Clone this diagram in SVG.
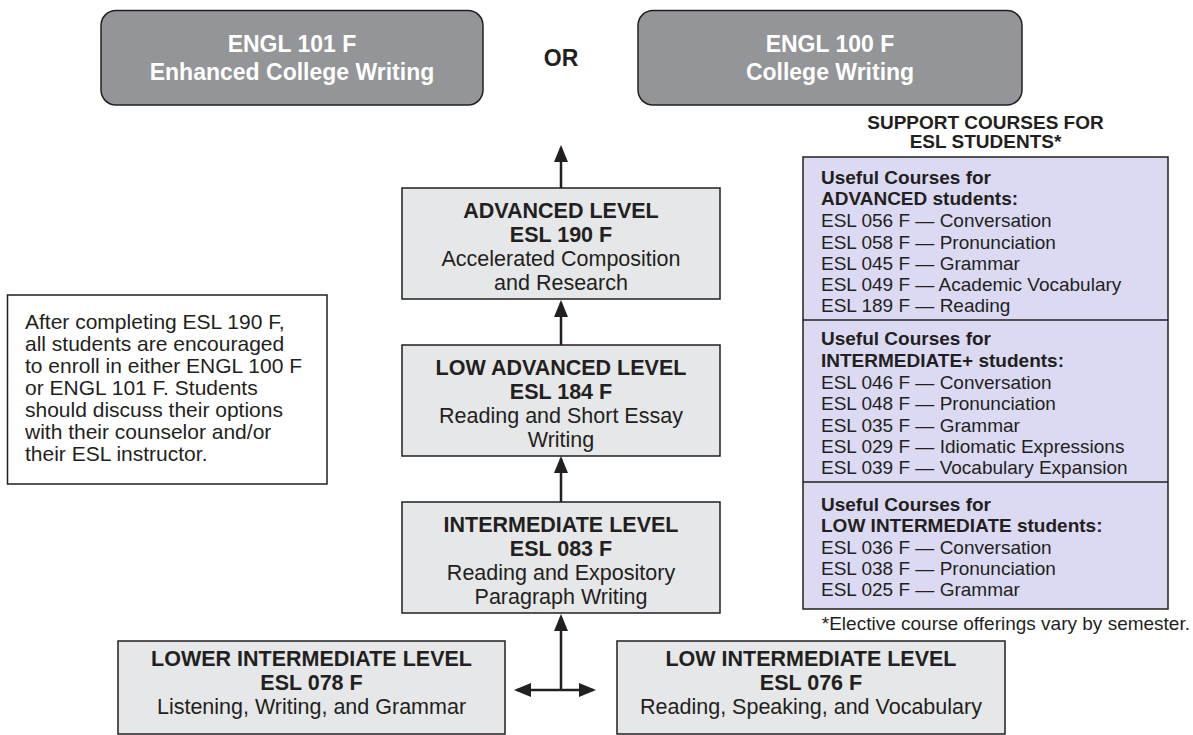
<svg xmlns="http://www.w3.org/2000/svg" width="1193" height="735" viewBox="0 0 1193 735">
<style>
text{font-family:"Liberation Sans",Arial,Helvetica,sans-serif;fill:#231f20}
.b{font-weight:bold}
.top{fill:#939598;stroke:#231f20;stroke-width:1.5}
.topt{fill:#ffffff;font-weight:bold;font-size:23px;text-anchor:middle}
.lvl{fill:#e6e7e8;stroke:#231f20;stroke-width:1.5}
.lt{font-size:21.5px;text-anchor:middle}
.sup{fill:#dcdaf3;stroke:#231f20;stroke-width:1.5}
.st{font-size:19px}
.note{font-size:21px}
.con{stroke:#231f20;stroke-width:2.5;fill:none}
</style>
<defs>
<marker id="ah" markerUnits="userSpaceOnUse" markerWidth="18" markerHeight="14" refX="14" refY="7" orient="auto-start-reverse" viewBox="0 0 18 14">
<path d="M0,0 L17,7 L0,14 Z" fill="#231f20"/>
</marker>
</defs>
<rect width="1193" height="735" fill="#ffffff"/>

<g id="engl101">
<rect class="top" x="101" y="10.5" width="382" height="94.5" rx="15"/>
<text class="topt" x="292" y="52">ENGL 101 F</text>
<text class="topt" x="292" y="80">Enhanced College Writing</text>
</g>
<g id="or">
<text class="b" x="561" y="66" font-size="23" text-anchor="middle">OR</text>
</g>
<g id="engl100">
<rect class="top" x="638" y="10.5" width="384" height="94.5" rx="15"/>
<text class="topt" x="830" y="52">ENGL 100 F</text>
<text class="topt" x="830" y="80">College Writing</text>
</g>

<g id="advanced">
<rect class="lvl" x="402" y="188" width="318" height="111"/>
<text class="lt b" x="561" y="218">ADVANCED LEVEL</text>
<text class="lt b" x="561" y="242">ESL 190 F</text>
<text class="lt" x="561" y="266">Accelerated Composition</text>
<text class="lt" x="561" y="290">and Research</text>
</g>
<g id="lowadvanced">
<rect class="lvl" x="402" y="345" width="318" height="111"/>
<text class="lt b" x="561" y="375">LOW ADVANCED LEVEL</text>
<text class="lt b" x="561" y="399">ESL 184 F</text>
<text class="lt" x="561" y="423">Reading and Short Essay</text>
<text class="lt" x="561" y="447">Writing</text>
</g>
<g id="intermediate">
<rect class="lvl" x="402" y="502" width="318" height="111"/>
<text class="lt b" x="561" y="532">INTERMEDIATE LEVEL</text>
<text class="lt b" x="561" y="556">ESL 083 F</text>
<text class="lt" x="561" y="580">Reading and Expository</text>
<text class="lt" x="561" y="604">Paragraph Writing</text>
</g>
<g id="lowerintermediate">
<rect class="lvl" x="118" y="641" width="387" height="93"/>
<text class="lt b" x="311.5" y="666">LOWER INTERMEDIATE LEVEL</text>
<text class="lt b" x="311.5" y="690">ESL 078 F</text>
<text class="lt" x="311.5" y="714">Listening, Writing, and Grammar</text>
</g>
<g id="lowintermediate">
<rect class="lvl" x="617" y="641" width="388" height="93"/>
<text class="lt b" x="811" y="666">LOW INTERMEDIATE LEVEL</text>
<text class="lt b" x="811" y="690">ESL 076 F</text>
<text class="lt" x="811" y="714">Reading, Speaking, and Vocabulary</text>
</g>

<g id="note">
<rect x="7.5" y="295" width="319.5" height="189" fill="#ffffff" stroke="#231f20" stroke-width="1.5"/>
<text class="note" x="25" y="329">After completing ESL 190 F,</text>
<text class="note" x="25" y="351">all students are encouraged</text>
<text class="note" x="25" y="373">to enroll in either ENGL 100 F</text>
<text class="note" x="25" y="395">or ENGL 101 F. Students</text>
<text class="note" x="25" y="417">should discuss their options</text>
<text class="note" x="25" y="439">with their counselor and/or</text>
<text class="note" x="25" y="461">their ESL instructor.</text>
</g>

<g id="support">
<text class="b" x="985.5" y="129" font-size="19" text-anchor="middle">SUPPORT COURSES FOR</text>
<text class="b" x="985.5" y="148" font-size="19" text-anchor="middle">ESL STUDENTS*</text>
<rect class="sup" x="803" y="157" width="365" height="452"/>
<line x1="803" y1="320" x2="1168" y2="320" stroke="#231f20" stroke-width="1.5"/>
<line x1="803" y1="482" x2="1168" y2="482" stroke="#231f20" stroke-width="1.5"/>
<text class="st b" x="821" y="184">Useful Courses for</text>
<text class="st b" x="821" y="205">ADVANCED students:</text>
<text class="st" x="821" y="227">ESL 056 F — Conversation</text>
<text class="st" x="821" y="249">ESL 058 F — Pronunciation</text>
<text class="st" x="821" y="270">ESL 045 F — Grammar</text>
<text class="st" x="821" y="291">ESL 049 F — Academic Vocabulary</text>
<text class="st" x="821" y="312">ESL 189 F — Reading</text>
<text class="st b" x="821" y="345">Useful Courses for</text>
<text class="st b" x="821" y="367">INTERMEDIATE+ students:</text>
<text class="st" x="821" y="389">ESL 046 F — Conversation</text>
<text class="st" x="821" y="410">ESL 048 F — Pronunciation</text>
<text class="st" x="821" y="432">ESL 035 F — Grammar</text>
<text class="st" x="821" y="453">ESL 029 F — Idiomatic Expressions</text>
<text class="st" x="821" y="474">ESL 039 F — Vocabulary Expansion</text>
<text class="st b" x="821" y="511">Useful Courses for</text>
<text class="st b" x="821" y="532">LOW INTERMEDIATE students:</text>
<text class="st" x="821" y="554">ESL 036 F — Conversation</text>
<text class="st" x="821" y="575">ESL 038 F — Pronunciation</text>
<text class="st" x="821" y="596">ESL 025 F — Grammar</text>
<text class="st" x="1190" y="630" text-anchor="end">*Elective course offerings vary by semester.</text>
</g>

<g id="connectors">
<line class="con" x1="561" y1="188" x2="561" y2="148" marker-end="url(#ah)"/>
<line class="con" x1="561" y1="345" x2="561" y2="303" marker-end="url(#ah)"/>
<line class="con" x1="561" y1="502" x2="561" y2="459" marker-end="url(#ah)"/>
<line class="con" x1="561" y1="690" x2="561" y2="617" marker-end="url(#ah)"/>
<line class="con" x1="517" y1="690" x2="593" y2="690" marker-start="url(#ah)" marker-end="url(#ah)"/>
</g>
</svg>
